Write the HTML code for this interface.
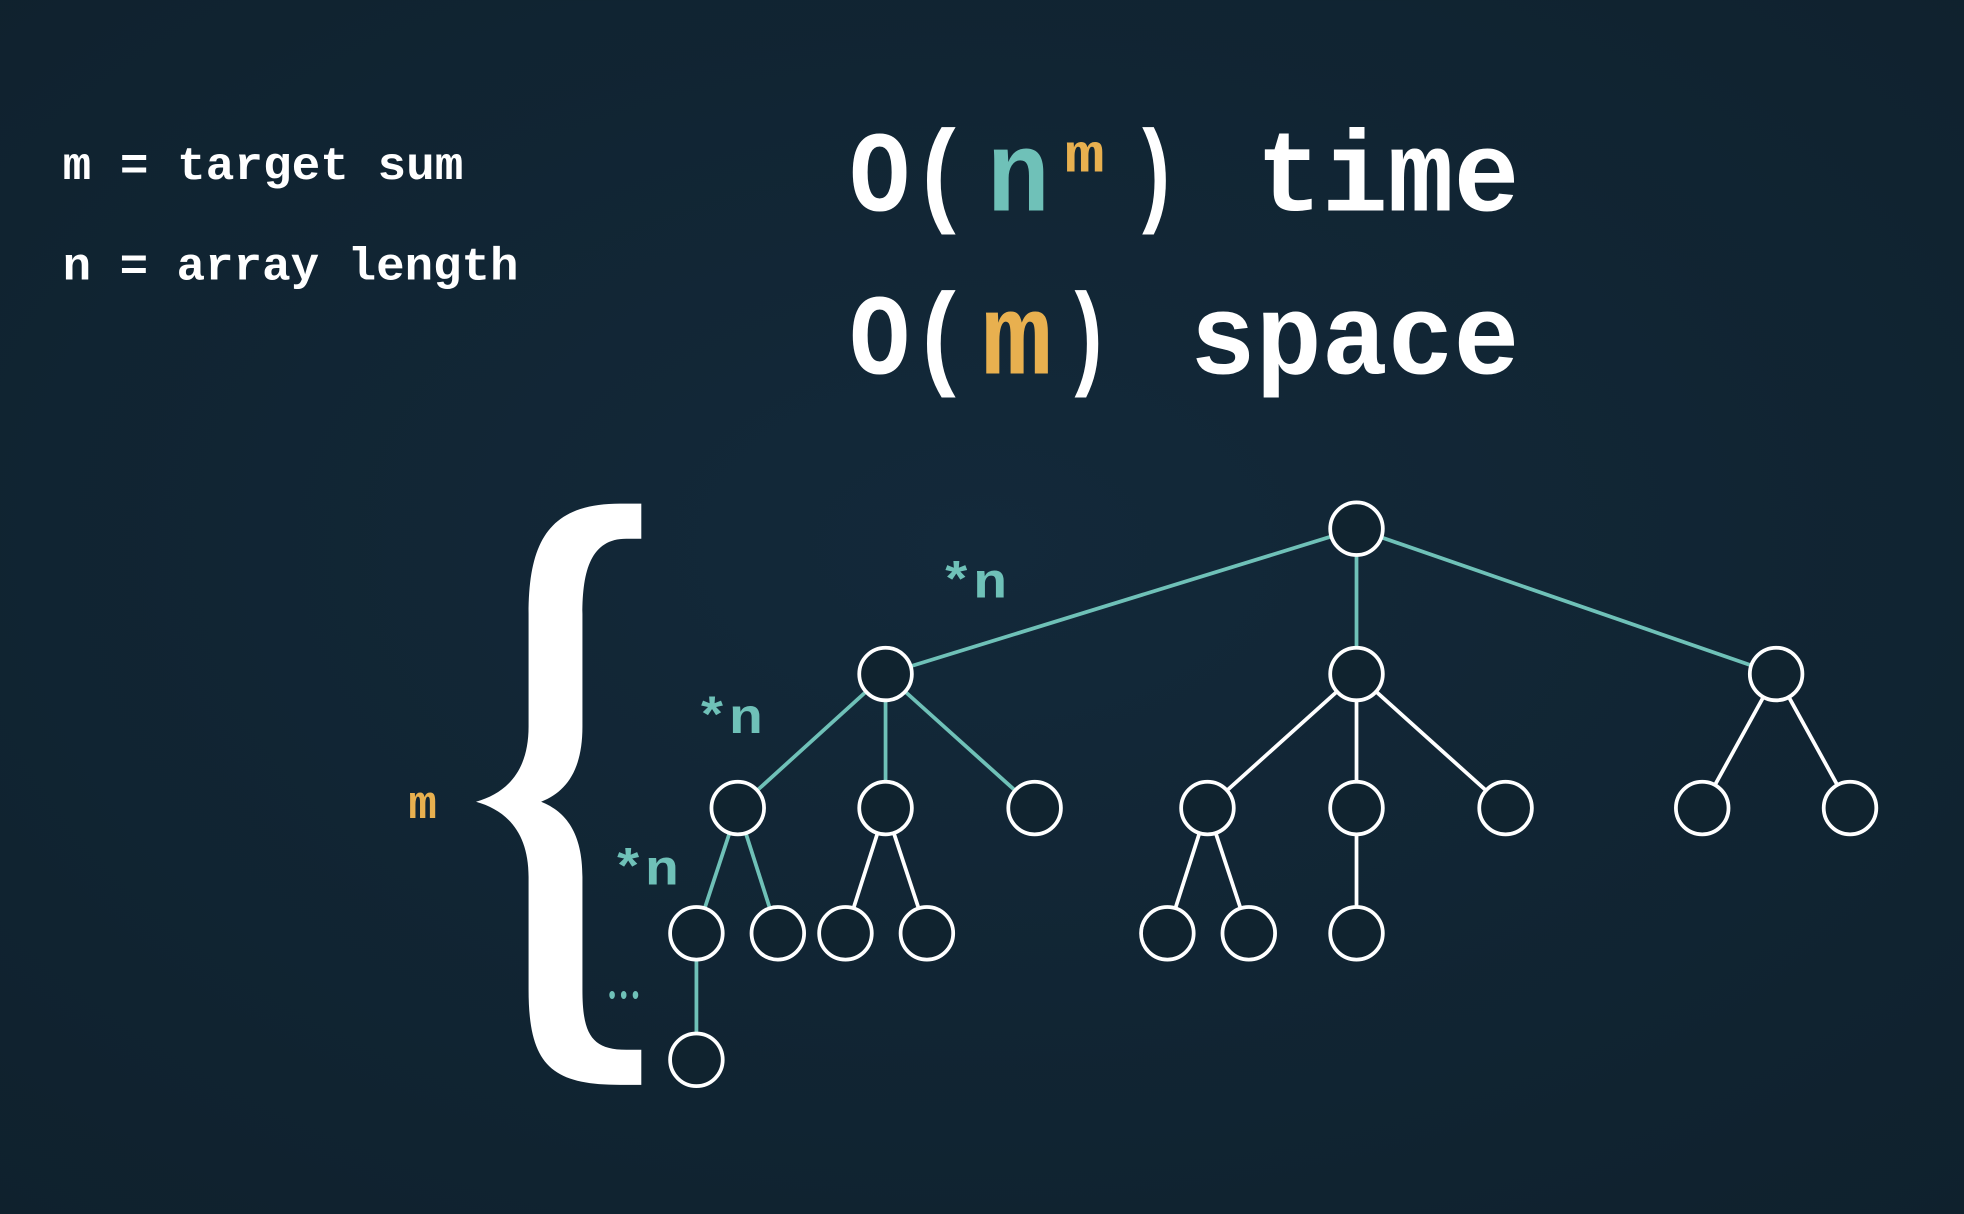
<!DOCTYPE html>
<html><head><meta charset="utf-8"><style>
html,body{margin:0;padding:0;background:#10232f;}
svg{display:block;}
text{font-family:"Liberation Mono","DejaVu Sans Mono",monospace;font-weight:bold;}
</style></head><body>
<svg width="1964" height="1214" viewBox="0 0 1568 969" xmlns="http://www.w3.org/2000/svg">
<defs><radialGradient id="bg" cx="50%" cy="45%" r="75%"><stop offset="0" stop-color="#13293a"/><stop offset="1" stop-color="#0f212d"/></radialGradient></defs>
<rect width="1568" height="969" fill="url(#bg)"/>
<text x="50" y="143" font-size="37" fill="#ffffff" textLength="320" lengthAdjust="spacingAndGlyphs">m = target sum</text>
<text x="50" y="223" font-size="37" fill="#ffffff" textLength="364" lengthAdjust="spacingAndGlyphs">n = array length</text>
<g font-size="92" fill="#ffffff">
<text x="678" y="168" textLength="97" lengthAdjust="spacingAndGlyphs">O(</text>
<text x="788" y="168" fill="#6fc1b8" textLength="50" lengthAdjust="spacingAndGlyphs">n</text>
<text x="850" y="137" font-size="44" fill="#e8b04f" textLength="32" lengthAdjust="spacingAndGlyphs">m</text>
<text x="902" y="168" textLength="40" lengthAdjust="spacingAndGlyphs">)</text>
<text x="1003" y="168" textLength="210" lengthAdjust="spacingAndGlyphs">time</text>
</g>
<g font-size="92" fill="#ffffff">
<text x="678" y="298" textLength="97" lengthAdjust="spacingAndGlyphs">O(</text>
<text x="784" y="298" fill="#e8b04f" textLength="56" lengthAdjust="spacingAndGlyphs">m</text>
<text x="848" y="298" textLength="40" lengthAdjust="spacingAndGlyphs">)</text>
<text x="950" y="298" textLength="263" lengthAdjust="spacingAndGlyphs">space</text>
</g>
<path fill="#ffffff" d="M512,402 L495,402 C440,402 422,430 422,490 L422,580 C422,615 405,633 380,640 C405,647 422,665 422,700 L422,790 C422,850 440,866 495,866 L512,866 L512,838 L500,838 C472,838 465,825 465,790 L465,700 C465,665 452,648 432,640 C452,632 465,615 465,580 L465,490 C465,455 472,430 500,430 L512,430 Z"/>
<text x="326" y="653" font-size="38" fill="#e8b04f">m</text>
<text x="750" y="477" font-size="40" fill="#6fc1b8" textLength="54" lengthAdjust="spacingAndGlyphs">*n</text>
<text x="555" y="585" font-size="40" fill="#6fc1b8" textLength="54" lengthAdjust="spacingAndGlyphs">*n</text>
<text x="488" y="706" font-size="40" fill="#6fc1b8" textLength="54" lengthAdjust="spacingAndGlyphs">*n</text>
<text x="484" y="802" font-size="22" fill="#6fc1b8" textLength="28" lengthAdjust="spacingAndGlyphs">•••</text>
<g id="tree"></g>
</svg>
<script>
const nodes = [[1083,422],[707,538],[1083,538],[1418,538],[589,645],[707,645],[826,645],[964,645],[1083,645],[1202,645],[1359,645],[1477,645],[556,745],[621,745],[675,745],[740,745],[932,745],[997,745],[1083,745],[556,846]];
const edges = [[0,1,1],[0,2,1],[0,3,1],[1,4,1],[1,5,1],[1,6,1],[2,7,0],[2,8,0],[2,9,0],[3,10,0],[3,11,0],[4,12,1],[4,13,1],[5,14,0],[5,15,0],[7,16,0],[7,17,0],[8,18,0],[12,19,1]];
const g=document.getElementById('tree');
const NS='http://www.w3.org/2000/svg';
edges.forEach(e=>{const l=document.createElementNS(NS,'line');


const a=nodes[e[0]],b=nodes[e[1]];
l.setAttribute('x1',a[0]);l.setAttribute('y1',a[1]);l.setAttribute('x2',b[0]);l.setAttribute('y2',b[1]);
l.setAttribute('stroke',e[2]?'#6fc1b8':'#ffffff');l.setAttribute('stroke-width','3');g.appendChild(l);});
nodes.forEach(n=>{const c=document.createElementNS(NS,'circle');


c.setAttribute('cx',n[0]);c.setAttribute('cy',n[1]);c.setAttribute('r','21');
c.setAttribute('fill','#10232f');c.setAttribute('stroke','#ffffff');c.setAttribute('stroke-width','3');g.appendChild(c);});
</script>
</body></html>
